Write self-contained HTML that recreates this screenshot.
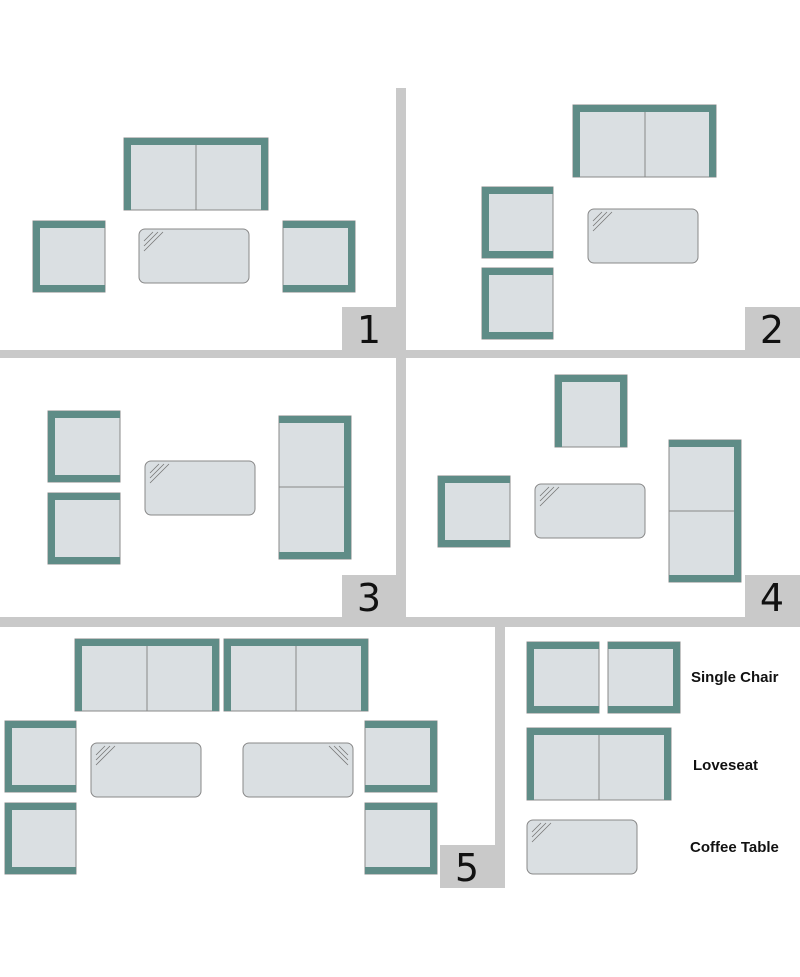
<!DOCTYPE html>
<html><head><style>body{margin:0;background:#fff}svg{display:block}</style></head><body>
<svg width="800" height="977" xmlns="http://www.w3.org/2000/svg" font-family="Liberation Sans, sans-serif">
<rect width="800" height="977" fill="#fff"/>
<g fill="#c9c9c9">
<rect x="396" y="88" width="10" height="530"/>
<rect x="0" y="350" width="800" height="8"/>
<rect x="0" y="617" width="800" height="10"/>
<rect x="495" y="627" width="10" height="261"/>
<rect x="342" y="307" width="54" height="43"/>
<rect x="745" y="307" width="55" height="43"/>
<rect x="342" y="575" width="54" height="42"/>
<rect x="745" y="575" width="55" height="42"/>
<rect x="440" y="845" width="55" height="43"/>
</g>
<g font-size="38" fill="#111" text-anchor="middle" font-family="DejaVu Sans, sans-serif">
<text x="369" y="343">1</text><text x="772" y="343">2</text><text x="369" y="611">3</text><text x="772" y="611">4</text><text x="467" y="881">5</text>
</g>
<g stroke="#888" stroke-width="1" fill="#dadfe2">
<rect x="124" y="138" width="72" height="72"/><rect x="196" y="138" width="72" height="72"/>
<rect x="33" y="221" width="72" height="71"/><rect x="283" y="221" width="72" height="71"/>
<rect x="573" y="105" width="72" height="72"/><rect x="645" y="105" width="71" height="72"/>
<rect x="482" y="187" width="71" height="71"/><rect x="482" y="268" width="71" height="71"/>
<rect x="48" y="411" width="72" height="71"/><rect x="48" y="493" width="72" height="71"/>
<rect x="279" y="416" width="72" height="71"/><rect x="279" y="487" width="72" height="72"/>
<rect x="555" y="375" width="72" height="72"/><rect x="438" y="476" width="72" height="71"/>
<rect x="669" y="440" width="72" height="71"/><rect x="669" y="511" width="72" height="71"/>
<rect x="75" y="639" width="72" height="72"/><rect x="147" y="639" width="72" height="72"/>
<rect x="224" y="639" width="72" height="72"/><rect x="296" y="639" width="72" height="72"/>
<rect x="5" y="721" width="71" height="71"/><rect x="5" y="803" width="71" height="71"/>
<rect x="365" y="721" width="72" height="71"/><rect x="365" y="803" width="72" height="71"/>
<rect x="527" y="642" width="72" height="71"/><rect x="608" y="642" width="72" height="71"/>
<rect x="527" y="728" width="72" height="72"/><rect x="599" y="728" width="72" height="72"/>
<rect x="139" y="229" width="110" height="54" rx="6"/>
<rect x="588" y="209" width="110" height="54" rx="6"/>
<rect x="145" y="461" width="110" height="54" rx="6"/>
<rect x="535" y="484" width="110" height="54" rx="6"/>
<rect x="91" y="743" width="110" height="54" rx="6"/>
<rect x="243" y="743" width="110" height="54" rx="6"/>
<rect x="527" y="820" width="110" height="54" rx="6"/>
</g>
<g fill="#5f8c87">
<rect x="124" y="138" width="144" height="7"/><rect x="124" y="138" width="7" height="72"/><rect x="261" y="138" width="7" height="72"/>
<rect x="33" y="221" width="72" height="7"/><rect x="33" y="285" width="72" height="7"/><rect x="33" y="221" width="7" height="71"/>
<rect x="283" y="221" width="72" height="7"/><rect x="283" y="285" width="72" height="7"/><rect x="348" y="221" width="7" height="71"/>
<rect x="573" y="105" width="143" height="7"/><rect x="573" y="105" width="7" height="72"/><rect x="709" y="105" width="7" height="72"/>
<rect x="482" y="187" width="71" height="7"/><rect x="482" y="251" width="71" height="7"/><rect x="482" y="187" width="7" height="71"/>
<rect x="482" y="268" width="71" height="7"/><rect x="482" y="332" width="71" height="7"/><rect x="482" y="268" width="7" height="71"/>
<rect x="48" y="411" width="72" height="7"/><rect x="48" y="475" width="72" height="7"/><rect x="48" y="411" width="7" height="71"/>
<rect x="48" y="493" width="72" height="7"/><rect x="48" y="557" width="72" height="7"/><rect x="48" y="493" width="7" height="71"/>
<rect x="279" y="416" width="72" height="7"/><rect x="279" y="552" width="72" height="7"/><rect x="344" y="416" width="7" height="143"/>
<rect x="555" y="375" width="72" height="7"/><rect x="555" y="375" width="7" height="72"/><rect x="620" y="375" width="7" height="72"/>
<rect x="438" y="476" width="72" height="7"/><rect x="438" y="540" width="72" height="7"/><rect x="438" y="476" width="7" height="71"/>
<rect x="669" y="440" width="72" height="7"/><rect x="669" y="575" width="72" height="7"/><rect x="734" y="440" width="7" height="142"/>
<rect x="75" y="639" width="144" height="7"/><rect x="75" y="639" width="7" height="72"/><rect x="212" y="639" width="7" height="72"/>
<rect x="224" y="639" width="144" height="7"/><rect x="224" y="639" width="7" height="72"/><rect x="361" y="639" width="7" height="72"/>
<rect x="5" y="721" width="71" height="7"/><rect x="5" y="785" width="71" height="7"/><rect x="5" y="721" width="7" height="71"/>
<rect x="5" y="803" width="71" height="7"/><rect x="5" y="867" width="71" height="7"/><rect x="5" y="803" width="7" height="71"/>
<rect x="365" y="721" width="72" height="7"/><rect x="365" y="785" width="72" height="7"/><rect x="430" y="721" width="7" height="71"/>
<rect x="365" y="803" width="72" height="7"/><rect x="365" y="867" width="72" height="7"/><rect x="430" y="803" width="7" height="71"/>
<rect x="527" y="642" width="72" height="7"/><rect x="527" y="706" width="72" height="7"/><rect x="527" y="642" width="7" height="71"/>
<rect x="608" y="642" width="72" height="7"/><rect x="608" y="706" width="72" height="7"/><rect x="673" y="642" width="7" height="71"/>
<rect x="527" y="728" width="144" height="7"/><rect x="527" y="728" width="7" height="72"/><rect x="664" y="728" width="7" height="72"/>
</g>
<g stroke="#777" stroke-width="0.8">
<path d="M144 241l9-9M144 246l14-14M144 251l19-19"/>
<path d="M593 221l9-9M593 226l14-14M593 231l19-19"/>
<path d="M150 473l9-9M150 478l14-14M150 483l19-19"/>
<path d="M540 496l9-9M540 501l14-14M540 506l19-19"/>
<path d="M96 755l9-9M96 760l14-14M96 765l19-19"/>
<path d="M348 755l-9-9M348 760l-14-14M348 765l-19-19"/>
<path d="M532 832l9-9M532 837l14-14M532 842l19-19"/>
</g>
<g font-size="15" font-weight="bold" fill="#111">
<text x="691" y="682">Single Chair</text>
<text x="693" y="770">Loveseat</text>
<text x="690" y="852">Coffee Table</text>
</g>
</svg>
</body></html>
